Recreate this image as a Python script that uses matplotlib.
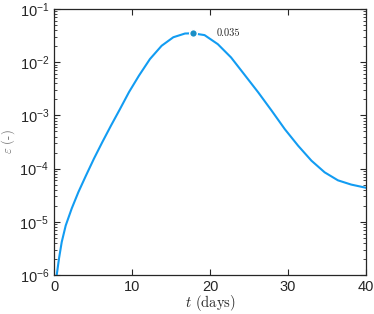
import numpy as np
import matplotlib
matplotlib.use('Agg')
import matplotlib.pyplot as plt
from matplotlib.ticker import FixedLocator, LogFormatterSciNotation, LogLocator, NullFormatter

plt.rcParams['mathtext.fontset'] = 'cm'
plt.rcParams['font.family'] = 'Liberation Sans'

# values (t in days, log10 of strain)
t_days = [0.35, 0.64, 0.99, 1.50, 2.27, 3.13, 4.10, 5.13, 6.2, 7.31, 8.46, 9.62,
          10.9, 12.3, 13.8, 15.3, 16.8, 17.8, 19.3, 21.0, 22.7, 24.4, 26.2,
          27.9, 29.6, 31.3, 33.0, 34.7, 36.4, 38.1, 40.0]
log_eps = [-6.0, -5.69, -5.38, -5.07, -4.75, -4.44, -4.13, -3.81, -3.50, -3.19,
           -2.88, -2.56, -2.25, -1.94, -1.69, -1.53, -1.46, -1.456, -1.49, -1.66,
           -1.91, -2.23, -2.57, -2.91, -3.26, -3.57, -3.85, -4.07, -4.22, -4.30,
           -4.36]
eps = [10 ** v for v in log_eps]

peak_t = 17.8
peak_eps = 0.035
peak_label = '0.035'

x_ticks = [0, 10, 20, 30, 40]
y_exps = [-6, -5, -4, -3, -2, -1]

fig = plt.figure(figsize=(3.74, 3.14), dpi=100)
ax = fig.add_axes([0.1444, 0.1242, 0.8342, 0.847])

ax.plot(t_days, eps, color='#129cf2', linewidth=1.5, zorder=2)
ax.plot([peak_t], [peak_eps], 'o', color='#1a8fc6', markersize=5.5,
        markeredgecolor='white', markeredgewidth=1.0, zorder=3)
ax.text(peak_t + 3.1, peak_eps, peak_label, fontsize=7.5, family='cmr10',
        va='center', ha='left', color='#222222')

ax.set_yscale('log')
ax.set_xlim(0, 40)
ax.set_ylim(1e-6, 1e-1)
ax.xaxis.set_major_locator(FixedLocator(x_ticks))
ax.yaxis.set_major_locator(FixedLocator([10.0 ** e for e in y_exps]))
ax.yaxis.set_major_formatter(LogFormatterSciNotation())
ax.yaxis.set_minor_locator(LogLocator(base=10, subs=np.arange(2, 10)))
ax.yaxis.set_minor_formatter(NullFormatter())

ax.tick_params(which='both', direction='in', top=True, right=True,
               colors='#262626', labelsize=10.5)
ax.tick_params(which='major', length=4, width=0.8)
ax.tick_params(which='minor', length=2, width=0.6)
for s in ax.spines.values():
    s.set_color('#262626')
    s.set_linewidth(0.9)

ax.set_xlabel(r'$t$ (days)', fontsize=10.5, family='cmr10', color='#262626',
              va='center')
ax.xaxis.set_label_coords(0.5, -0.105)
ax.set_ylabel(r'$\varepsilon$ (-)', fontsize=9, family='cmr10', color='#666666',
              va='center')
ax.yaxis.set_label_coords(-0.148, 0.5)

fig.savefig('out.png', dpi=100)
